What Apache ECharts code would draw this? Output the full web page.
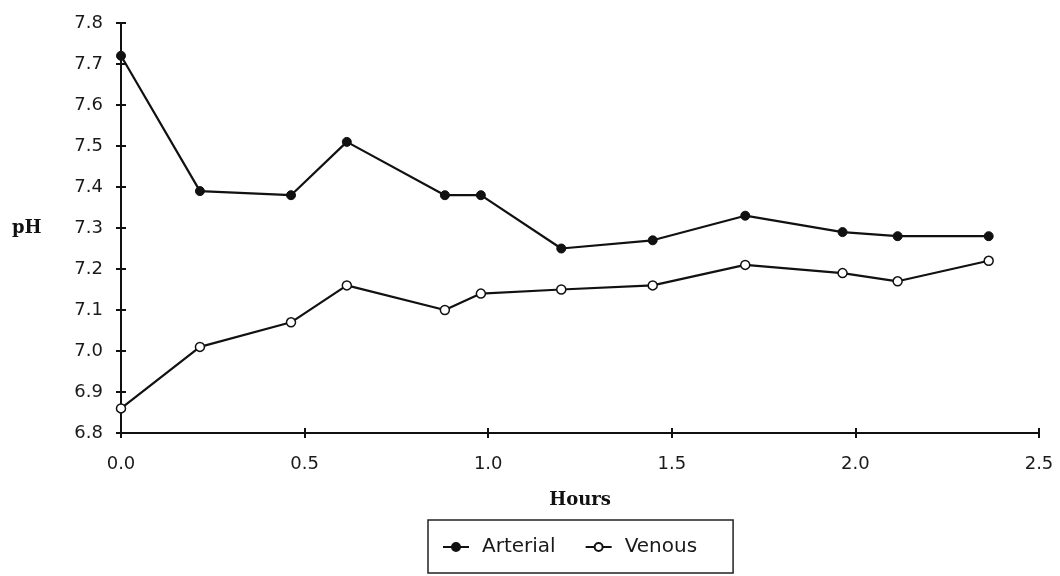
<!DOCTYPE html>
<html>
<head>
<meta charset="utf-8">
<script src="https://cdn.jsdelivr.net/npm/echarts@6/dist/echarts.min.js"></script>
<style>html,body{margin:0;padding:0;background:#fff}#c{width:1060px;height:576px}</style>
</head>
<body>
<div id="c"></div>
<script>
const hours = [0.0, 0.215, 0.463, 0.615, 0.882, 0.980, 1.199, 1.448, 1.700, 1.965, 2.115, 2.363];
const arterial = [7.72, 7.39, 7.38, 7.51, 7.38, 7.38, 7.25, 7.27, 7.33, 7.29, 7.28, 7.28];
const venous = [6.86, 7.01, 7.07, 7.16, 7.10, 7.14, 7.15, 7.16, 7.21, 7.19, 7.17, 7.22];
const xTicks = [0.0, 0.5, 1.0, 1.5, 2.0, 2.5];
const yTicks = [6.8, 6.9, 7.0, 7.1, 7.2, 7.3, 7.4, 7.5, 7.6, 7.7, 7.8];

const chart = echarts.init(document.getElementById('c'));
const lbl = {color:'#1a1a1a', fontFamily:'DejaVu Sans', fontSize:18};
const xMin = xTicks[0], xMax = xTicks[xTicks.length-1];
const yMin = yTicks[0], yMax = yTicks[yTicks.length-1];
chart.setOption({
  animation:false,
  backgroundColor:'#fff',
  grid:{left:121, right:21, top:23, bottom:143},
  xAxis:[{
    type:'value', min:xMin, max:xMax, interval:0.5, position:'bottom',
    name:'Hours', nameLocation:'middle', nameGap:58,
    nameTextStyle:{fontFamily:'DejaVu Serif', fontWeight:'bold', fontSize:18, color:'#111'},
    axisLine:{lineStyle:{color:'#111', width:2}},
    axisTick:{show:true, length:5, lineStyle:{color:'#111', width:2}},
    splitLine:{show:false},
    axisLabel:Object.assign({margin:22, formatter:v=>v.toFixed(1)}, lbl)
  },{
    type:'value', min:xMin, max:xMax, interval:0.5, position:'bottom', offset:0,
    axisLine:{show:false},
    axisTick:{show:true, inside:true, length:5, lineStyle:{color:'#111', width:2}},
    axisLabel:{show:false}, splitLine:{show:false}
  }],
  yAxis:[{
    type:'value', min:yMin, max:yMax, interval:0.1, position:'left',
    axisLine:{show:true, lineStyle:{color:'#111', width:2}},
    axisTick:{show:true, length:5, lineStyle:{color:'#111', width:2}},
    splitLine:{show:false},
    axisLabel:Object.assign({margin:18, formatter:v=>v.toFixed(1)}, lbl)
  },{
    type:'value', min:yMin, max:yMax, interval:0.1, position:'left', offset:0,
    axisLine:{show:false},
    axisTick:{show:true, inside:true, length:5, lineStyle:{color:'#111', width:2}},
    axisLabel:{show:false}, splitLine:{show:false}
  }],
  graphic:[{type:'text', left:12, top:219, style:{text:'pH', font:'bold 18px "DejaVu Serif"', fill:'#111'}}],
  legend:{
    left:428, top:520, orient:'horizontal',
    borderColor:'#222', borderWidth:1.5, padding:[17, 36, 16, 14],
    itemWidth:26, itemHeight:10, itemGap:29,
    textStyle:{fontFamily:'DejaVu Sans', fontSize:20, color:'#1a1a1a', padding:[0,0,0,8]},
    data:['Arterial','Venous']
  },
  series:[
    {name:'Arterial', type:'line', xAxisIndex:0, yAxisIndex:0, data:hours.map((h,i)=>[h, arterial[i]]),
     symbol:'circle', symbolSize:9, lineStyle:{color:'#111', width:2.2},
     itemStyle:{color:'#111', borderColor:'#111', borderWidth:1}},
    {name:'Venous', type:'line', xAxisIndex:0, yAxisIndex:0, data:hours.map((h,i)=>[h, venous[i]]),
     symbol:'circle', symbolSize:9, lineStyle:{color:'#111', width:2.2},
     itemStyle:{color:'#fff', borderColor:'#111', borderWidth:1.5}}
  ]
});
</script>
</body>
</html>
